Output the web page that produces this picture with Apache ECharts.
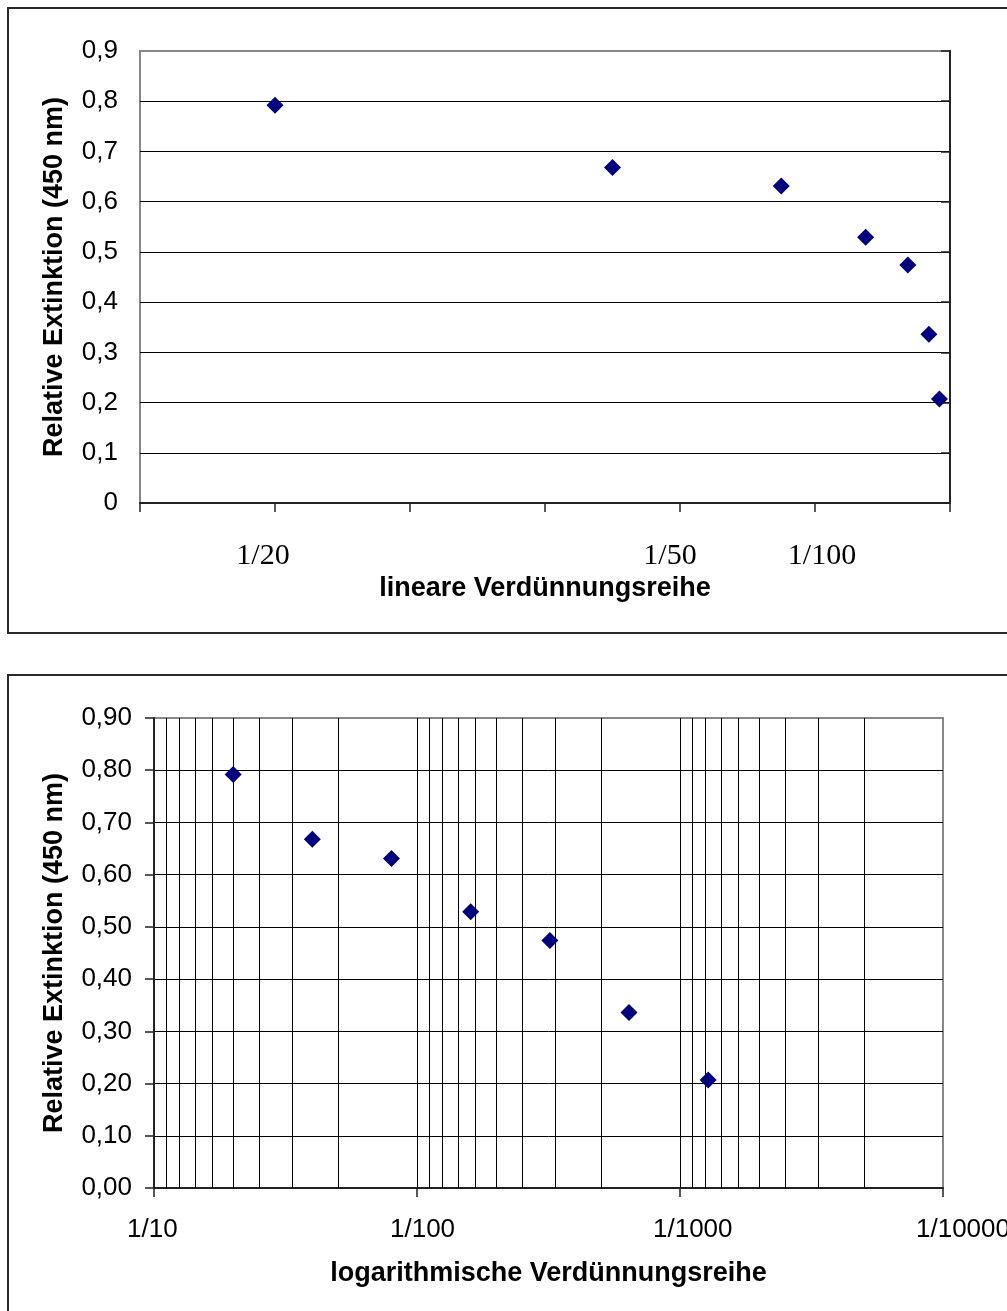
<!DOCTYPE html>
<html>
<head>
<meta charset="utf-8">
<style>
  html, body { margin: 0; padding: 0; background: #fff; overflow: hidden; }
  #chart { width: 1007px; height: 1311px; }
</style>
<script src="https://cdn.jsdelivr.net/npm/echarts@6/dist/echarts.min.js"></script>
</head>
<body>
<div id="chart"></div>
<script>
// Dilution steps as fractions (1/20 ... 1/1280) and measured relative extinction at 450 nm
var dilutionFractions = [0.05, 0.025, 0.0125, 0.00625, 0.003125, 0.0015625, 0.00078125];
var extinction = [0.792, 0.668, 0.631, 0.529, 0.474, 0.336, 0.207];

// Linear chart: tick labels by tick index (tick value = index / 100)
var linearTickLabels = ['', '1/100', '1/50', '', '', '1/20', ''];

// Log chart: intermediate grid lines inside each decade
var logMinorGrid = [
  0.09, 0.08, 0.07, 0.06, 0.05, 0.04, 0.03, 0.02,
  0.009, 0.008, 0.007, 0.006, 0.005, 0.004, 0.003, 0.002,
  0.0009, 0.0008, 0.0007, 0.0006, 0.0005, 0.0004, 0.0003, 0.0002
];

var points = dilutionFractions.map(function (x, i) { return [x, extinction[i]]; });

var sans = 'Liberation Sans, Arial, sans-serif';
var serif = 'Liberation Serif, Times New Roman, serif';
var tickFont = 26;
var nameFont = 27;

var chart = echarts.init(document.getElementById('chart'), null, { renderer: 'canvas' });

function yAxisCfg(gridIndex, gap, fmt) {
  return {
    gridIndex: gridIndex, type: 'value', min: 0, max: 0.9, interval: 0.1,
    name: 'Relative Extinktion (450 nm)', nameLocation: 'middle', nameGap: gap,
    nameTextStyle: { fontFamily: sans, fontWeight: 'bold', fontSize: nameFont, color: '#000' },
    axisLine: { show: true, lineStyle: { color: '#222', width: 2 } },
    axisTick: { show: true, inside: false, length: 9, lineStyle: { color: '#222', width: 1.5 } },
    splitLine: { show: true, showMinLine: false, showMaxLine: false, lineStyle: { color: '#000', width: 1 } },
    axisLabel: { margin: 22, fontFamily: sans, fontSize: tickFont, color: '#000', formatter: fmt }
  };
}

chart.setOption({
  animation: false,
  backgroundColor: '#fff',
  graphic: [
    { type: 'rect', shape: { x: 8, y: 8, width: 1012, height: 625 },
      style: { fill: 'none', stroke: '#2a2a2a', lineWidth: 2 }, silent: true },
    { type: 'rect', shape: { x: 8, y: 675, width: 1012, height: 660 },
      style: { fill: 'none', stroke: '#2a2a2a', lineWidth: 2 }, silent: true }
  ],
  grid: [
    { left: 140, top: 51, width: 810, height: 452, show: true, outerBoundsMode: 'none',
      containLabel: false, borderColor: '#888', borderWidth: 2, backgroundColor: '#fff' },
    { left: 154, top: 718, width: 789, height: 470, show: true, outerBoundsMode: 'none',
      containLabel: false, borderColor: '#888', borderWidth: 2, backgroundColor: '#fff' }
  ],
  xAxis: [
    {
      gridIndex: 0, type: 'value', min: 0, max: 0.06, interval: 0.01, inverse: true,
      name: 'lineare Verdünnungsreihe', nameLocation: 'middle', nameGap: 72,
      nameTextStyle: { fontFamily: sans, fontWeight: 'bold', fontSize: nameFont, color: '#000' },
      axisLine: { lineStyle: { color: '#222', width: 2 } },
      axisTick: { show: true, inside: false, length: 9, lineStyle: { color: '#222', width: 1.5 } },
      splitLine: { show: false },
      axisLabel: {
        margin: 38,
        formatter: function (v) {
          var t = linearTickLabels[Math.round(v * 100)] || '';
          if (!t) return '';
          if (t === '1/20') return '{l|' + t + '}';
          if (t === '1/50') return '{m|' + t + '}';
          return '{r|' + t + '}';
        },
        rich: {
          l: { fontFamily: serif, fontSize: 30, color: '#000', padding: [0, 24, 0, 0] },
          m: { fontFamily: serif, fontSize: 30, color: '#000', padding: [0, 20, 0, 0] },
          r: { fontFamily: serif, fontSize: 30, color: '#000', padding: [0, 0, 0, 14] }
        }
      }
    },
    {
      gridIndex: 1, type: 'log', logBase: 10, min: 0.0001, max: 0.1, inverse: true,
      name: 'logarithmische Verdünnungsreihe', nameLocation: 'middle', nameGap: 72,
      nameTextStyle: { fontFamily: sans, fontWeight: 'bold', fontSize: nameFont, color: '#000' },
      axisLine: { lineStyle: { color: '#222', width: 2 } },
      axisTick: { show: true, inside: false, length: 9, lineStyle: { color: '#222', width: 1.5 } },
      splitLine: { show: true, showMinLine: false, showMaxLine: false, lineStyle: { color: '#000', width: 1 } },
      axisLabel: {
        margin: 29,
        formatter: function (v) { return '{t|1/' + Math.round(1 / v) + '}'; },
        rich: {
          // labels start a fixed distance left of their tick
          t: { fontFamily: sans, fontSize: tickFont, color: '#000', width: 54, align: 'left' }
        }
      }
    }
  ],
  yAxis: [
    yAxisCfg(0, 72, function (v) { return v === 0 ? '0' : v.toFixed(1).replace('.', ','); }),
    yAxisCfg(1, 86, function (v) { return v.toFixed(2).replace('.', ','); })
  ],
  series: [
    {
      // minor vertical grid of the logarithmic chart
      type: 'custom', xAxisIndex: 1, yAxisIndex: 1, z: 1, silent: true,
      data: logMinorGrid.map(function (v) { return [v]; }),
      encode: { x: 0 },
      renderItem: function (params, api) {
        var x = api.value(0);
        var p0 = api.coord([x, 0]);
        var p1 = api.coord([x, 0.9]);
        var cx = Math.round(p0[0]) + 0.5;
        return {
          type: 'line',
          shape: { x1: cx, y1: p1[1], x2: cx, y2: p0[1] },
          style: { stroke: '#000', lineWidth: 1 }
        };
      }
    },
    {
      type: 'scatter', xAxisIndex: 0, yAxisIndex: 0, z: 3,
      symbol: 'diamond', symbolSize: 17,
      itemStyle: { color: '#000080', opacity: 1 },
      data: points
    },
    {
      type: 'scatter', xAxisIndex: 1, yAxisIndex: 1, z: 3,
      symbol: 'diamond', symbolSize: 17,
      itemStyle: { color: '#000080', opacity: 1 },
      data: points
    }
  ]
});
</script>
</body>
</html>
